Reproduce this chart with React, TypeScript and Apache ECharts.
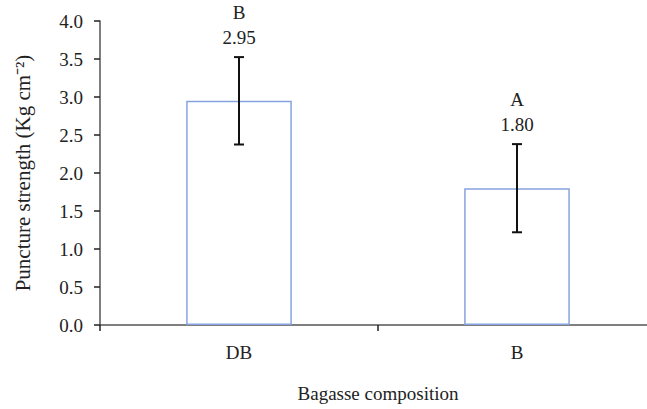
import React, { useEffect, useRef } from "react";
import * as echarts from "echarts";

const categories = ["DB", "B"];
const values = [2.95, 1.8];
const errors = [0.575, 0.58];
const letters = ["B", "A"];
const yTicks = [0, 0.5, 1, 1.5, 2, 2.5, 3, 3.5, 4];

const FONT = "Liberation Serif";
const FS = 19;

export default function App() {
  const ref = useRef<HTMLDivElement>(null);
  useEffect(() => {
    const chart = echarts.init(ref.current!, null, { renderer: "svg" });
    const errData = values.map((v, i) => [i, v, errors[i]]);
    chart.setOption({
      animation: false,
      grid: {
        left: 100,
        top: 21,
        height: 304,
        width: 556,
        containLabel: false,
        outerBoundsMode: "none",
      },
      xAxis: {
        type: "category",
        data: categories,
        name: "Bagasse composition",
        nameLocation: "middle",
        nameGap: 59,
        nameTextStyle: { fontFamily: FONT, fontSize: FS, color: "#222" },
        axisLine: { lineStyle: { color: "#555", width: 1.5 } },
        axisTick: { show: true, length: 6, lineStyle: { color: "#222", width: 1.5 } },
        axisLabel: { fontFamily: FONT, fontSize: FS, color: "#222", margin: 18 },
      },
      yAxis: {
        type: "value",
        min: yTicks[0],
        max: yTicks[yTicks.length - 1],
        interval: 0.5,
        name: "Puncture strength (Kg cm⁻²)",
        nameLocation: "middle",
        nameGap: 67,
        nameTextStyle: { fontFamily: FONT, fontSize: 21, color: "#222" },
        axisLine: { show: true, lineStyle: { color: "#555", width: 1.5 } },
        axisTick: { show: true, length: 6, lineStyle: { color: "#222", width: 1.5 } },
        axisLabel: {
          fontFamily: FONT,
          fontSize: FS,
          color: "#222",
          margin: 17,
          formatter: (v: number) => v.toFixed(1),
        },
        splitLine: { show: false },
      },
      series: [
        {
          type: "bar",
          data: values,
          barWidth: "38%",
          itemStyle: { color: "#fff", borderColor: "#86a3e0", borderWidth: 1.5 },
        },
        {
          type: "custom",
          data: errData,
          z: 10,
          renderItem: (params: any, api: any) => {
            const i = api.value(0);
            const v = api.value(1);
            const e = api.value(2);
            const letter = letters[params.dataIndex];
            const top = api.coord([i, v + e]);
            const bot = api.coord([i, v - e]);
            const cap = 5;
            const style = { stroke: "#111", lineWidth: 2 };
            return {
              type: "group",
              children: [
                { type: "line", shape: { x1: top[0], y1: top[1], x2: bot[0], y2: bot[1] }, style },
                { type: "line", shape: { x1: top[0] - cap, y1: top[1], x2: top[0] + cap, y2: top[1] }, style },
                { type: "line", shape: { x1: bot[0] - cap, y1: bot[1], x2: bot[0] + cap, y2: bot[1] }, style },
                {
                  type: "text",
                  style: {
                    x: top[0],
                    y: top[1] - 20,
                    text: v.toFixed(2),
                    fontFamily: FONT,
                    fontSize: FS,
                    fill: "#222",
                    align: "center",
                    verticalAlign: "middle",
                  },
                },
                {
                  type: "text",
                  style: {
                    x: top[0],
                    y: top[1] - 45,
                    text: letter,
                    fontFamily: FONT,
                    fontSize: FS,
                    fill: "#222",
                    align: "center",
                    verticalAlign: "middle",
                  },
                },
              ],
            };
          },
        },
      ],
    });
    return () => chart.dispose();
  }, []);
  return (
    <div
      ref={ref}
      style={{ position: "absolute", left: 0, top: 0, width: 647, height: 409, overflow: "hidden" }}
    />
  );
}
